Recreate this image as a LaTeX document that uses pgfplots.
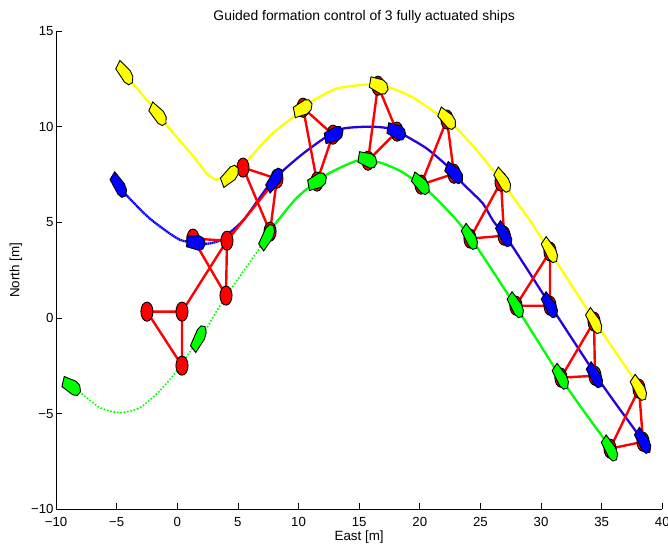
\documentclass[border=0pt]{standalone}
\usepackage{fontspec}
\setmainfont{Liberation Sans}
\usepackage{pgfplots}
\pgfplotsset{compat=1.18}
\definecolor{mblue}{rgb}{0,0,1}
\definecolor{dblue}{rgb}{0.17,0,0.85}
\definecolor{mgreen}{rgb}{0,1,0}
\definecolor{myellow}{rgb}{1,1,0}
\pgfdeclareplotmark{ship}{%
  \pgfpathmoveto{\pgfpoint{-0.75bp}{-0.28bp}}%
  \pgfpathlineto{\pgfpoint{0.25bp}{-0.38bp}}%
  \pgfpathlineto{\pgfpoint{0.60bp}{-0.28bp}}%
  \pgfpathlineto{\pgfpoint{0.78bp}{0bp}}%
  \pgfpathlineto{\pgfpoint{0.60bp}{0.28bp}}%
  \pgfpathlineto{\pgfpoint{0.25bp}{0.38bp}}%
  \pgfpathlineto{\pgfpoint{-0.75bp}{0.28bp}}%
  \pgfpathclose\pgfusepath{fill,stroke}}
\pgfdeclareplotmark{fnode}{%
  \pgfpathcircle{\pgfpointorigin}{0.5bp}\pgfusepath{fill,stroke}}
\pgfplotsset{
  shipset/.style={scatter, only marks, mark=#1, point meta=0,
    visualization depends on={value \thisrow{a} \as \ang},
    scatter/@post marker code/.code={\endpgfscope}},
  shipfill/.style={scatter/@pre marker code/.code={\pgfscope
      \pgftransformxscale{12.125}\pgftransformyscale{19.13}\pgftransformrotate{\ang}%
      \pgfsetfillcolor{#1}\pgfsetstrokecolor{black}\pgfsetlinewidth{0.9bp}}},
  edge/.style={red, line width=2.4bp, forget plot, line join=round},
}
\begin{document}
\begin{tikzpicture}
\useasboundingbox (-56bp,-34.7bp) rectangle (612bp,509.3bp);
\begin{axis}[
  scale only axis, width=606.3bp, height=478.3bp,
  xmin=-10, xmax=40, ymin=-10, ymax=15,
  axis x line*=bottom, axis y line*=left,
  axis line style={black, line width=0.7bp, -},
  clip=false,
  xtick={-10,-5,0,5,10,15,20,25,30,35,40},
  xticklabels={−10,−5,0,5,10,15,20,25,30,35,40},
  ytick={-10,-5,0,5,10,15},
  yticklabels={−10,−5,0,5,10,15},
  tick align=inside, tick style={black, line width=0.6bp},
  major tick length=6bp,
  tick label style={font=\fontsize{13.2bp}{14bp}\selectfont},
  xticklabel style={anchor=center, yshift=-12.5bp},
  yticklabel style={anchor=east, xshift=1bp},
  title={Guided formation control of 3 fully actuated ships},
  title style={at={(0.5,1)}, anchor=center, yshift=8bp, xshift=5bp, font=\fontsize{13.9bp}{14bp}\selectfont},
  xlabel={East [m]},
  xlabel style={at={(0.5,0)}, anchor=center, yshift=-27.7bp, font=\fontsize{13.4bp}{14bp}\selectfont},
  ylabel={North [m]},
  every axis y label/.style={at={(axis description cs:-0.066,0.5)}, anchor=center, rotate=90, font=\fontsize{13.4bp}{14bp}\selectfont},
]
% yellow path
\addplot[myellow, line width=2.3bp, smooth, tension=0.4, forget plot] coordinates {
(-4.31,12.77)(-3.65,12.25)(-2.25,11.20)(-0.85,10.05)(1.29,8.48)(2.45,7.54)(3.27,7.23)(4.35,7.60)(5.75,8.22)(7.65,9.53)(9.71,10.58)(11.19,11.36)(13.17,11.99)(15.65,12.20)(17.54,12.04)(19.44,11.52)(21.67,10.57)(23.07,9.89)(24.72,8.75)(26.37,7.44)(29.09,5.09)(31.32,2.89)(33.87,0.38)(35.11,-0.82)(37.58,-3.12)(38.07,-3.70)};
% blue path
\addplot[mblue, line width=2.3bp, smooth, tension=0.4, dash pattern=on 1.6bp off 0.5bp, forget plot] coordinates {
(-4.81,6.86)(-4.15,6.39)(-2.25,5.19)(0.22,4.09)(2.45,3.88)(3.52,4.04)};
\addplot[dblue, line width=2.3bp, smooth, tension=0.4, forget plot] coordinates {
(3.52,4.04)(5.42,5.09)(7.40,6.81)(8.72,7.70)(10.37,8.59)(12.18,9.42)(13.67,9.90)(15.89,10.00)(17.54,9.90)(18.94,9.48)(20.59,8.85)(22.24,7.96)(23.56,7.02)(25.21,5.98)(26.04,5.09)(27.60,3.78)(31.32,0.12)(35.11,-3.54)(37.92,-6.00)(38.65,-6.57)};
% green path
\addplot[mgreen, line width=2.3bp, line cap=round, smooth, tension=0.4, dash pattern=on 0bp off 3.4bp, forget plot] coordinates {
(-8.77,-3.59)(-7.86,-3.96)(-6.38,-4.69)(-4.73,-4.95)(-3.08,-4.69)(-1.43,-3.80)(-0.02,-2.75)(1.29,-1.55)(2.45,-0.51)(3.77,0.90)(6.82,3.67)};
\addplot[mgreen, line width=2.3bp, smooth, tension=0.4, forget plot] coordinates {
(6.82,3.67)(7.65,4.56)(9.87,6.29)(12.18,7.44)(14.83,8.22)(16.73,8.12)(18.62,7.60)(20.84,6.55)(23.07,5.09)(24.80,3.62)(28.51,0.02)(32.22,-3.69)(35.11,-6.25)(35.85,-6.94)};
% formation edges
\addplot[edge] coordinates {(-2.50,0.33)(0.39,0.33)(0.39,-2.49)(-2.50,0.33)};
\addplot[edge] coordinates {(0.39,0.33)(4.10,4.04)};
\addplot[edge] coordinates {(1.29,4.15)(4.10,4.04)(4.02,1.17)(1.29,4.15)};
\addplot[edge] coordinates {(4.10,4.04)(8.22,7.28)};
\addplot[edge] coordinates {(5.42,7.86)(8.22,7.28)(7.65,4.51)(5.42,7.86)};
\addplot[edge] coordinates {(10.37,10.99)(12.84,9.58)(11.52,7.13)(10.37,10.99)};
\addplot[edge] coordinates {(16.55,12.14)(18.12,9.74)(15.73,8.22)(16.55,12.14)};
\addplot[edge] coordinates {(22.24,10.37)(22.82,7.54)(20.10,6.97)(22.24,10.37)};
\addplot[edge] coordinates {(26.70,7.12)(26.95,4.30)(24.14,4.15)(26.70,7.12)};
\addplot[edge] coordinates {(30.74,3.47)(30.74,0.64)(27.93,0.64)(30.74,3.47)};
\addplot[edge] coordinates {(34.37,-0.19)(34.45,-3.02)(31.64,-3.12)(34.37,-0.19)};
\addplot[edge] coordinates {(38.08,-3.70)(38.41,-6.47)(35.69,-6.83)(38.08,-3.70)};
% formation nodes
\addplot[shipset=fnode, shipfill=red, forget plot] table {
x y a
-2.50 0.33 0
0.39 0.33 0
0.39 -2.49 0
1.29 4.15 0
4.10 4.04 0
4.02 1.17 0
5.42 7.86 0
8.22 7.28 0
7.65 4.51 0
10.37 10.99 0
12.84 9.58 0
11.52 7.13 0
16.55 12.14 0
18.12 9.74 0
15.73 8.22 0
22.24 10.37 0
22.82 7.54 0
20.10 6.97 0
26.70 7.12 0
26.95 4.30 0
24.14 4.15 0
30.74 3.47 0
30.74 0.64 0
27.93 0.64 0
34.37 -0.19 0
34.45 -3.02 0
31.64 -3.12 0
38.08 -3.70 0
38.41 -6.47 0
35.69 -6.83 0
};
% ships
\addplot[shipset=ship, shipfill=myellow, forget plot] table {
x y a
-4.31 12.78 -38
-1.57 10.63 -35
4.35 7.44 30
10.37 10.96 17
16.63 12.14 -15
22.27 10.40 -31
26.85 7.18 -42
30.74 3.52 -46
34.39 -0.19 -46
38.08 -3.68 -46
};
\addplot[shipset=ship, shipfill=mblue, forget plot] table {
x y a
-4.81 6.92 -44
1.54 3.94 -5
8.04 7.23 41
12.92 9.58 15
18.09 9.74 -15
22.85 7.56 -30
26.97 4.35 -46
30.74 0.64 -46
34.45 -3.02 -46
38.43 -6.45 -46
};
\addplot[shipset=ship, shipfill=mgreen, forget plot] table {
x y a
-8.71 -3.58 -20
1.79 -1.05 50
7.42 4.25 48
11.55 7.14 16
15.70 8.26 -12
20.10 7.00 -31
24.14 4.21 -46
27.93 0.64 -46
31.64 -3.10 -46
35.69 -6.85 -46
};
\end{axis}
\end{tikzpicture}
\end{document}
